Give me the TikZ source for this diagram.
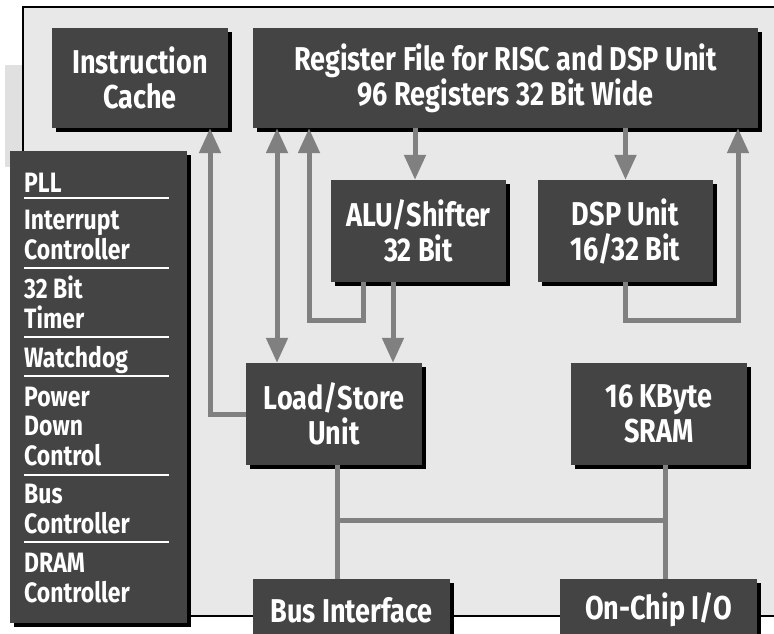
\documentclass[tikz,border=0pt]{standalone}
\usepackage{fontspec}
\setmainfont{Fira Sans}[FakeStretch=0.82]
\usetikzlibrary{arrows.meta,shadows}

\begin{document}
\begin{tikzpicture}[x=1pt,y=-1pt,
  unit/.style={fill=unitgray,text=white,inner sep=0pt,align=center,
    font=\bfseries\fontsize{33}{35}\selectfont,
    drop shadow={shadow xshift=4pt,shadow yshift=-4pt,fill=black,opacity=1}},
  flow/.style={draw=flowgray,line width=5pt},
  head/.style={-{Triangle[width=21pt,length=25pt]}},
  twohead/.style={{Triangle[width=21pt,length=25pt]}-{Triangle[width=21pt,length=25pt]}},
  item/.style={anchor=base west,inner sep=0pt,text=white,align=left,
    font=\bfseries\fontsize{28}{29.5}\selectfont}]
  \definecolor{framegray}{HTML}{E8E8E8}
  \definecolor{stripgray}{HTML}{E0E0E0}
  \definecolor{unitgray}{HTML}{444444}
  \definecolor{flowgray}{HTML}{808080}

  \useasboundingbox (0,0) rectangle (774,634);
  \clip (0,0) rectangle (774,634);

  % chip frame
  \fill[stripgray] (5,65) rectangle (23,167);
  \draw[fill=framegray,line width=2.5pt] (23,7) rectangle (800,616);

  % units
  \node[unit,minimum width=176,minimum height=100] (icache) at (140,78) {Instruction\\Cache};
  \node[unit,minimum width=505,minimum height=100] (regfile) at (505.5,78)
    {Register File for RISC and DSP Unit\\96 Registers 32 Bit Wide};
  \node[unit,minimum width=175,minimum height=102] (alu) at (418.5,231) {ALU/Shifter\\32 Bit};
  \node[unit,minimum width=175,minimum height=102] (dsp) at (625.5,231) {DSP Unit\\16/32 Bit};
  \node[unit,minimum width=176,minimum height=102] (ldst) at (334,414) {Load/Store\\Unit};
  \node[unit,minimum width=176,minimum height=102] (sram) at (659,414) {16 KByte\\SRAM};
  \node[unit,minimum width=197,minimum height=62] (busif) at (351.5,610) {Bus Interface};
  \node[unit,minimum width=197,minimum height=62] (onchip) at (658.5,610) {On-Chip I/O};

  % peripherals (base = last line)
  \node[unit,minimum width=177,minimum height=472] (periph) at (98.5,387) {};
  \node[item] (pll) at (24,192) {PLL};
  \node[item] (irq) at (24,259) {Interrupt\\Controller};
  \node[item] (timer) at (24,328) {32 Bit\\Timer};
  \node[item] (wdog) at (24,367) {Watchdog};
  \node[item] (pdown) at (24,465) {Power\\Down\\Control};
  \node[item] (busctl) at (24,533) {Bus\\Controller};
  \node[item] (dram) at (24,602) {DRAM\\Controller};
  \foreach \y in {198,268,337,376,475,542} {
    \draw[white,line width=2.5pt] (24,\y) -- (169,\y);
  }

  % columns of the connectors
  \coordinate (cA) at (210,0);
  \coordinate (cB) at (277,0);
  \coordinate (cD) at (363,0);
  \coordinate (cE) at (415,0);
  \coordinate (cF) at (393,0);
  \coordinate (cG) at (337,0);
  \coordinate (aluret) at (309,320);
  \coordinate (dspret) at (738,320);
  \coordinate (busL) at (337,520);
  \coordinate (busR) at (665,520);

  % data paths
  \draw[flow,head] (ldst.west) -| (icache.south -| cA);
  \draw[flow,twohead] (regfile.south -| cB) -- (ldst.north -| cB);
  \draw[flow,head] (alu.south -| cD) |- (aluret) -- (regfile.south -| aluret);
  \draw[flow,head] (regfile.south -| cE) -- (alu.north -| cE);
  \draw[flow,head] (alu.south -| cF) -- (ldst.north -| cF);
  \draw[flow,head] (regfile.south -| dsp.north) -- (dsp.north);
  \draw[flow,head] (dsp.south) |- (dspret) -- (regfile.south -| dspret);

  % internal bus
  \draw[flow] (ldst.south -| cG) -- (busif.north -| cG);
  \draw[flow] (busL) -- (busR);
  \draw[flow] (sram.south -| busR) -- (onchip.north -| busR);
\end{tikzpicture}
\end{document}
